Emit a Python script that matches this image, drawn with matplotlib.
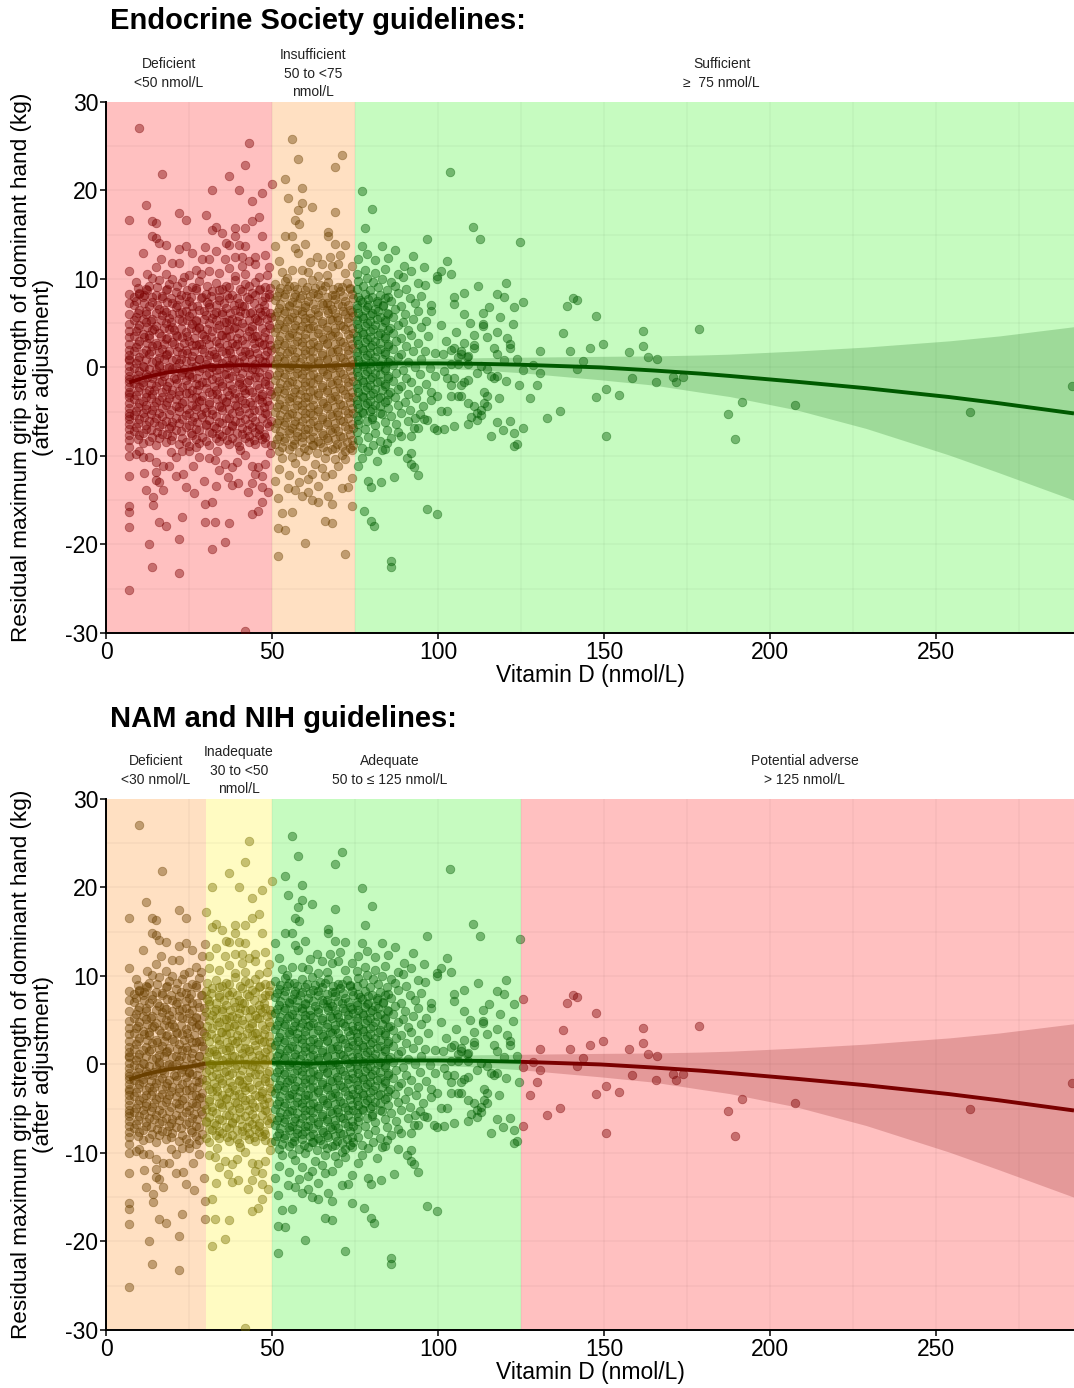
import numpy as np
import matplotlib
matplotlib.use("Agg")
import matplotlib.pyplot as plt

plt.rcParams['font.family'] = ['Liberation Sans', 'DejaVu Sans']
plt.rcParams['axes.unicode_minus'] = False

# ---------------- data ----------------
# vitamin D = 7 nmol/L column
col7_grip = [16.6, 10.9, 8.3, 7.3, 6.0, 4.9, 4.1, 3.4, 2.7, 2.0, 1.4, 0.8, 0.2, -0.4, -1.0,
             -1.6, -2.2, -2.8, -3.4, -4.0, -4.6, -5.2, -5.8, -6.4, -7.0, -7.6, -8.2, -9.0,
             -10.0, -12.3, -15.7, -16.3, -18.0, -25.1, 1.0, -1.3, -3.0, -5.5]

# < 50 nmol/L, outlying points
deficient_outer = [
    (10.0,27.1),(17.0,21.9),(43.0,25.3),(42.0,22.9),(37.0,21.6),(31.9,20.1),(40.0,20.1),(44.0,18.8),(47.0,19.7),(49.9,20.7),
    (12.0,18.4),(22.0,17.5),(24.0,16.6),(30.0,17.2),(14.0,16.5),(15.0,16.3),(14.0,14.8),(15.0,14.6),(16.0,14.1),(18.0,13.8),
    (22.0,13.4),(24.0,13.7),(29.9,13.6),(32.0,15.5),(33.0,15.9),(35.0,15.2),(39.0,15.8),(39.0,14.8),(42.0,15.8),(42.0,13.7),
    (44.0,16.5),(37.0,13.8),(40.0,13.8),(46.0,17.0),(47.0,14.9),(15.0,11.4),(14.0,10.1),(20.0,11.8),(22.0,11.8),(25.0,10.4),
    (29.0,12.3),(31.0,12.3),(33.0,13.2),(35.9,12.2),(38.9,12.5),(40.9,12.5),(44.9,12.5),(47.9,12.7),(44.9,11.7),(18.0,10.6),
    (27.0,11.0),(34.0,10.7),(37.0,11.2),(42.0,10.5),(49.0,11.3),(11.0,12.9),(26.0,12.9),(46.0,10.2),(39.0,10.3),(20.0,10.0),
    (31.0,10.9),(36.0,14.0),(43.0,12.0),(10.0,8.3),(12.5,10.6),(23.5,10.2),(28.5,10.5),(16.5,12.2),(48.5,10.4),(41.0,11.5),
    (9.0,-9.8),(11.0,-10.1),(13.0,-10.1),(15.1,-10.7),(17.1,-11.1),(19.1,-11.1),(21.1,-10.1),(23.0,-9.4),(25.1,-9.4),(27.1,-9.0),
    (28.1,-10.1),(30.9,-10.2),(32.9,-10.5),(34.1,-11.6),(35.9,-10.9),(37.9,-11.3),(39.4,-10.7),(36.9,-12.4),(37.9,-13.3),(39.9,-13.1),
    (42.9,-14.1),(43.9,-13.1),(44.9,-12.0),(46.9,-13.5),(48.9,-14.1),(41.9,-9.9),(43.9,-11.1),(45.9,-11.3),(47.9,-10.9),(15.1,-11.8),
    (16.1,-12.9),(17.1,-13.9),(21.1,-12.3),(23.1,-12.1),(24.1,-13.5),(26.1,-11.1),(12.0,-13.9),(14.1,-14.6),(14.1,-15.5),(15.1,-12.7),
    (13.0,-20.0),(22.0,-19.4),(31.9,-20.5),(35.9,-19.7),(13.9,-22.6),(22.0,-23.2),(16.1,-17.5),(18.1,-17.9),(23.0,-16.9),(29.9,-17.5),
    (32.9,-17.5),(37.0,-17.6),(29.9,-15.4),(31.9,-15.2),(43.9,-16.6),(45.9,-16.2),(46.9,-15.2),(41.9,-29.8),(10.0,-9.5),(19.5,-9.6),
    (33.5,-9.4),(40.5,-9.3),(49.5,-9.7),(29.5,-12.8),(11.5,-11.9),(47.0,-12.3),(26.5,-14.2),(33.0,-13.4),
]

# < 50 nmol/L, dense cloud
deficient_core = [
    (9,9.6),(13,9.2),(16,9.9),(19,9.4),(23,9.7),(26,9.1),(28,9.8),(33,9.5),(36,9.2),(39,9.9),(42,9.4),(45,9.6),(48,9.1),
    (10,8.4),(12,8.9),(15,8.2),(18,8.7),(21,8.5),(24,8.1),(27,8.8),(30,8.3),(32,8.6),(35,8.9),(38,8.2),(41,8.6),(44,8.4),(46,8.8),(49,8.3),
    (9,7.5),(11,7.9),(14,7.4),(17,7.8),(20,7.3),(22,7.7),(25,7.5),(29,7.9),(31,7.2),(34,7.6),(37,7.8),(40,7.3),(43,7.7),(47,7.5),(49,7.9),
    (10,6.5),(13,6.9),(16,6.6),(18,6.3),(21,6.8),(24,6.4),(26,6.9),(28,6.5),(31,6.8),(33,6.3),(36,6.7),(39,6.5),(41,6.9),(44,6.3),(46,6.7),(48,6.4),
    (9,5.7),(12,6.0),(14,5.5),(17,5.9),(19,5.6),(22,6.1),(25,5.8),(27,5.4),(30,5.9),(32,5.6),(35,6.0),(38,5.5),(40,5.8),(42,6.1),(45,5.6),(47,5.9),(49.8,5.7),
    (10,4.8),(12,5.1),(15,4.7),(18,5.0),(20,4.6),(23,5.2),(26,4.9),(28,4.5),(31,5.0),(34,4.8),(36,5.1),(39,4.6),(41,5.0),(44,4.7),(46,5.2),(49,4.8),
    (9,4.1),(11,3.8),(14,4.2),(16,3.9),(19,4.3),(21,3.7),(24,4.0),(27,4.2),(29,3.8),(32,4.1),(35,3.7),(37,4.3),(40,3.9),(43,4.1),(45,3.6),(48,4.0),
    (10,3.0),(13,3.3),(15,2.8),(18,3.2),(20,2.9),(23,3.4),(25,3.0),(28,2.7),(30,3.2),(33,3.0),(36,3.4),(38,2.8),(41,3.1),(44,3.3),(46,2.9),(49,3.2),
    (9,2.3),(12,2.0),(14,2.4),(17,2.1),(19,1.9),(22,2.3),(24,2.0),(27,2.5),(29,2.1),(32,1.8),(34,2.3),(37,2.0),(39,2.4),(42,1.9),(45,2.2),(47,2.5),(49.8,2.0),
    (10,1.2),(13,1.5),(16,1.1),(18,1.4),(21,1.0),(23,1.6),(26,1.3),(28,0.9),(31,1.4),(33,1.2),(36,1.6),(38,1.0),(41,1.3),(43,1.5),(46,1.1),(48,1.4),
    (9,0.5),(11,0.2),(14,0.6),(16,0.3),(19,0.1),(22,0.5),(24,0.7),(27,0.2),(30,0.4),(32,0.0),(35,0.5),(37,0.3),(40,0.6),(42,0.1),(45,0.4),(48,0.6),
    (10,-0.4),(12,-0.7),(15,-0.3),(17,-0.6),(20,-0.2),(23,-0.5),(25,-0.8),(28,-0.4),(31,-0.6),(33,-0.3),(36,-0.7),(39,-0.4),(41,-0.6),(44,-0.2),(46,-0.5),(49,-0.7),
    (9,-1.3),(11,-1.6),(14,-1.2),(17,-1.5),(19,-1.7),(21,-1.3),(24,-1.4),(26,-1.1),(29,-1.6),(32,-1.3),(34,-1.5),(37,-1.2),(40,-1.7),(43,-1.4),(45,-1.1),(48,-1.5),
    (10,-2.2),(13,-2.5),(15,-2.1),(18,-2.4),(20,-2.6),(23,-2.2),(26,-2.5),(28,-2.0),(30,-2.3),(33,-2.6),(35,-2.1),(38,-2.4),(41,-2.2),(43,-2.6),(46,-2.3),(49,-2.0),
    (9,-3.1),(12,-3.4),(14,-3.0),(17,-3.3),(19,-3.5),(22,-3.1),(24,-2.9),(27,-3.4),(29,-3.2),(32,-3.0),(35,-3.5),(37,-3.1),(40,-3.3),(42,-2.9),(45,-3.4),(47,-3.2),(49.8,-3.0),
    (10,-4.0),(12,-4.3),(15,-3.9),(18,-4.2),(21,-4.4),(23,-4.0),(26,-4.3),(28,-3.8),(31,-4.1),(34,-4.4),(36,-3.9),(39,-4.2),(42,-4.0),(44,-4.3),(47,-3.9),(49,-4.2),
    (9,-4.9),(11,-5.2),(14,-4.8),(16,-5.1),(19,-5.3),(22,-4.9),(25,-5.2),(27,-4.7),(30,-5.0),(32,-5.3),(35,-4.8),(38,-5.1),(40,-4.9),(43,-5.2),(46,-4.8),(48,-5.1),
    (10,-5.8),(13,-6.1),(15,-5.7),(18,-6.0),(20,-6.2),(23,-5.8),(26,-6.1),(29,-5.6),(31,-5.9),(34,-6.2),(37,-5.7),(39,-6.0),(42,-5.8),(45,-6.1),(47,-5.7),(49.8,-6.0),
    (9,-6.7),(12,-7.0),(16,-6.6),(19,-6.9),(21,-7.1),(24,-6.7),(27,-7.0),(30,-6.5),(33,-6.8),(36,-7.1),(38,-6.6),(41,-6.9),(44,-6.7),(46,-7.0),(49,-6.6),
    (10,-7.6),(14,-7.9),(17,-7.5),(20,-7.8),(23,-8.0),(26,-7.6),(29,-7.9),(32,-7.4),(35,-7.7),(38,-8.0),(41,-7.5),(43,-7.8),(46,-7.6),(48,-7.9),
    (11,-8.5),(15,-8.8),(18,-8.4),(22,-8.7),(25,-8.9),(28,-8.5),(31,-8.8),(34,-8.3),(37,-8.6),(40,-8.9),(43,-8.4),(45,-8.7),(48,-8.5),(49.8,-8.8),
    (9.5,9.0),(12.5,8.8),(15.5,9.1),(18.5,8.9),(21.5,9.2),(24.5,8.8),(27,9.0),(30.5,9.2),(34,8.8),(37,9.1),(40.5,8.9),(43,9.2),(46.5,8.9),(49.5,9.0),
    (8.5,8.0),(11.5,8.2),(14,7.9),(17,8.1),(19.5,7.8),(22.5,8.2),(25.5,8.0),(28.5,7.8),(31.5,8.1),(34,7.9),(36.5,8.2),(39.5,7.8),(42.5,8.0),(45,8.2),(48,7.9),
    (8.5,7.1),(11.5,7.3),(15.5,7.0),(18.5,7.4),(21.5,7.1),(24,7.2),(27.5,6.9),(30.5,7.4),(33,7.0),(35.5,7.3),(38.5,7.1),(41.5,6.9),(44.5,7.3),(47.5,7.0),
    (9.5,6.2),(12,6.4),(15,6.1),(17.5,6.5),(20,6.0),(23,6.3),(26,6.1),(29.5,6.4),(32.5,6.0),(35,6.3),(37.5,6.2),(40.5,6.4),(43.5,6.1),(46.5,6.3),(49.5,6.2),
    (8.5,5.3),(11,5.5),(13.5,5.2),(16.5,5.4),(19.5,5.1),(22,5.5),(24.5,5.3),(27,5.2),(29.5,5.5),(33,5.3),(35.5,5.1),(37,5.4),(39.5,5.2),(43,5.4),(45.5,5.3),(48.5,5.5),
    (9.5,4.4),(12.5,4.6),(14.5,4.3),(17.5,4.5),(20.5,4.2),(22.5,4.5),(25.5,4.4),(28,4.6),(30.5,4.3),(33.5,4.5),(36,4.2),(38.5,4.4),(41.5,4.6),(44,4.3),(47,4.5),(49.5,4.4),
    (8.5,3.6),(11.5,3.4),(13,3.7),(16.5,3.5),(18.5,3.3),(21.5,3.6),(24.5,3.5),(26.5,3.3),(29.5,3.6),(31.5,3.4),(34.5,3.7),(37.5,3.5),(39.5,3.3),(42.5,3.6),(45.5,3.5),(47.5,3.4),
    (9.5,2.6),(12.5,2.8),(15.5,2.5),(17.5,2.7),(20.5,2.6),(23.5,2.8),(26,2.5),(28.5,2.7),(31,2.6),(34,2.8),(36.5,2.5),(39.5,2.7),(42,2.6),(44.5,2.8),(47.5,2.7),(49.5,2.5),
    (8.5,1.8),(11,1.6),(13.5,1.8),(16,1.7),(18.5,1.5),(21.5,1.8),(24.5,1.6),(26.5,1.9),(29.5,1.7),(32.5,1.5),(35,1.8),(37.5,1.6),(40.5,1.9),(43,1.7),(45.5,1.6),(48.5,1.8),
    (9.5,0.8),(12,1.0),(15,0.7),(17.5,0.9),(20,0.8),(22.5,1.0),(25.5,0.7),(28,0.9),(30.5,0.8),(33.5,0.9),(36,0.7),(38.5,1.0),(41.5,0.8),(44,0.9),(47,0.7),(49.5,0.9),
    (8.5,-0.1),(11.5,0.1),(13,-0.2),(16,0.0),(18.5,-0.1),(21,0.1),(23.5,-0.2),(26,0.0),(29,-0.1),(31.5,0.1),(34,-0.2),(36.5,0.0),(39.5,-0.1),(42.5,0.1),(45,-0.2),(47.5,0.0),
    (9.5,-0.9),(12.5,-1.1),(14.5,-0.8),(17.5,-1.0),(20.5,-1.2),(22.5,-0.9),(25,-1.0),(27.5,-1.2),(30,-0.9),(33,-1.1),(35.5,-0.8),(38,-1.0),(40.5,-1.2),(43.5,-0.9),(46,-1.1),(48.5,-1.0),
    (8.5,-1.8),(11,-2.0),(13.5,-1.9),(16,-1.7),(18.5,-2.1),(21.5,-1.8),(24.5,-2.0),(27,-1.9),(30,-1.7),(32.5,-2.1),(35,-1.8),(37.5,-2.0),(40,-1.9),(42.5,-1.7),(45.5,-2.0),(48,-1.9),
    (9.5,-2.7),(12,-2.9),(14.5,-2.6),(17,-2.8),(19.5,-3.0),(22,-2.7),(25,-2.9),(27.5,-2.6),(31,-2.8),(33.5,-3.0),(36.5,-2.7),(39,-2.9),(41.5,-2.6),(44,-2.8),(47,-3.0),(49.5,-2.7),
    (8.5,-3.6),(11,-3.8),(13.5,-3.5),(16,-3.7),(18.5,-3.9),(21,-3.6),(23.5,-3.8),(26,-3.5),(28.5,-3.7),(31,-3.9),(33.5,-3.6),(36,-3.8),(38.5,-3.5),(41,-3.7),(43.5,-3.9),(46,-3.6),(48.5,-3.8),
    (9.5,-4.5),(12,-4.7),(14.5,-4.4),(17,-4.6),(19.5,-4.8),(22,-4.5),(24.5,-4.7),(27,-4.4),(29.5,-4.6),(32,-4.8),(34.5,-4.5),(37,-4.7),(39.5,-4.4),(42,-4.6),(44.5,-4.8),(47.5,-4.5),
    (8.5,-5.4),(11.5,-5.6),(13.5,-5.3),(17,-5.5),(21,-5.7),(24,-5.4),(26.5,-5.6),(28.5,-5.3),(33,-5.5),(36,-5.7),(40.5,-5.4),(44,-5.6),(48.5,-5.3),
    (9.5,-6.3),(12,-6.5),(14.5,-6.2),(17,-6.4),(19.5,-6.6),(22,-6.3),(25,-6.5),(27.5,-6.2),(30,-6.4),(32.5,-6.6),(35,-6.3),(38,-6.5),(40.5,-6.2),(43,-6.4),(46,-6.6),(48.5,-6.3),
    (8.5,-7.2),(11,-7.4),(13.5,-7.1),(15.5,-7.3),(18.5,-7.5),(22.5,-7.2),(25.5,-7.4),(28,-7.1),(31,-7.3),(34,-7.5),(37,-7.2),(39.5,-7.4),(42.5,-7.1),(45,-7.3),(47.5,-7.5),
    (9.5,-8.1),(13,-8.3),(16,-8.0),(19.5,-8.2),(24,-8.4),(27,-8.1),(30,-8.3),(33,-8.0),(36.5,-8.2),(39.5,-8.4),(42,-8.0),(44.5,-8.2),(47,-8.1),
]

# 50 to 75 nmol/L
insufficient_pts = [
    (55.9,25.8),(57.9,23.6),(71.0,24.0),(69.0,22.6),(53.9,21.3),(58.9,20.3),(54.9,19.1),(58.9,18.6),(57.9,17.8),(62.0,18.1),
    (69.0,17.6),(51.0,13.7),(54.0,14.9),(56.0,14.9),(57.0,16.6),(58.0,16.2),(67.0,15.3),(67.0,14.9),(69.0,13.9),(72.0,13.8),
    (60.0,13.9),(52.9,10.8),(55.9,11.0),(58.9,11.0),(60.9,10.8),(65.0,11.7),(68.0,11.5),(70.0,11.7),(72.0,10.7),(63.5,12.5),
    (67.5,12.5),(70.5,12.7),(57.9,12.9),(56.9,13.5),(52.0,12.0),(61.5,11.9),(64.0,10.3),(74.0,11.5),(54.5,10.1),(66.5,10.4),
    (51.9,-18.2),(53.9,-18.4),(52.9,-16.5),(55.9,-16.3),(51.9,-21.3),(59.9,-19.8),(72.0,-21.1),(66.0,-17.3),(68.0,-17.6),(51.9,-14.7),
    (54.9,-13.6),(58.9,-14.5),(60.9,-14.1),(62.0,-15.0),(64.0,-15.2),(67.0,-14.5),(68.0,-15.4),(71.0,-13.6),(74.0,-15.7),(66.0,-12.3),
    (52.0,-11.5),(55.0,-12.2),(57.0,-10.8),(59.0,-11.6),(61.0,-12.6),(63.0,-10.9),(65.0,-11.4),(68.0,-12.0),(70.0,-11.1),(72.0,-10.4),
    (74.0,-12.5),(53.0,-10.2),(58.0,-12.9),(62.0,-12.0),(69.0,-10.3),(73.0,-13.5),(60.0,-10.0),(64.0,-13.4),(56.0,-10.1),(71.0,-9.9),
    (51.0,-12.8),(66.0,-10.2),(57.0,-13.9),
    (51,9.4),(54,9.8),(56.5,9.2),(59,9.6),(62,9.9),(64.5,9.3),(67,9.7),(70,9.1),(72.5,9.5),
    (52,8.5),(54.5,8.9),(57,8.3),(60,8.7),(62.5,8.4),(65,8.8),(68,8.2),(70.5,8.6),(73.5,8.9),
    (51,7.6),(53.5,7.9),(56,7.4),(58.5,7.8),(61,7.5),(64,7.9),(66.5,7.3),(69,7.7),(72,7.5),(74.5,7.8),
    (52,6.7),(55,6.9),(57.5,6.5),(60,6.8),(63,6.6),(65.5,7.0),(68,6.6),(71,6.9),(73.5,6.5),
    (51,5.8),(53.5,6.1),(56,5.7),(59,6.0),(61.5,5.6),(64,5.9),(67,6.2),(69.5,5.7),(72,6.0),(74.5,5.8),
    (52,4.9),(54.5,5.2),(57,4.8),(60,5.1),(62.5,4.7),(65,5.0),(68,5.3),(70.5,4.8),(73,5.1),
    (51,4.0),(53.5,4.3),(56,3.9),(58.5,4.2),(61,4.4),(64,3.9),(66.5,4.2),(69,4.0),(72,4.3),(74.5,3.9),
    (52,3.1),(55,3.4),(57.5,3.0),(60,3.3),(62.5,2.9),(65.5,3.2),(68,3.5),(70.5,3.0),(73.5,3.3),
    (51,2.2),(53.5,2.5),(56,2.1),(59,2.4),(61.5,2.0),(64,2.3),(66.5,2.6),(69.5,2.1),(72,2.4),(74.5,2.2),
    (52,1.3),(54.5,1.6),(57,1.2),(60,1.5),(62.5,1.1),(65,1.4),(68,1.7),(70.5,1.2),(73,1.5),
    (51,0.4),(53.5,0.7),(56,0.3),(58.5,0.6),(61,0.2),(64,0.5),(66.5,0.8),(69,0.3),(72,0.6),(74.5,0.4),
    (52,-0.5),(55,-0.2),(57.5,-0.6),(60,-0.3),(62.5,-0.7),(65.5,-0.4),(68,-0.1),(70.5,-0.5),(73.5,-0.3),
    (51,-1.4),(53.5,-1.1),(56,-1.5),(59,-1.2),(61.5,-1.6),(64,-1.3),(66.5,-1.0),(69.5,-1.4),(72,-1.2),(74.5,-1.5),
    (52,-2.3),(54.5,-2.0),(57,-2.4),(60,-2.1),(62.5,-2.5),(65,-2.2),(68,-1.9),(70.5,-2.3),(73,-2.1),
    (51,-3.2),(53.5,-2.9),(56,-3.3),(58.5,-3.0),(61,-3.4),(64,-3.1),(66.5,-2.8),(69,-3.2),(72,-3.0),(74.5,-3.3),
    (52,-4.1),(55,-3.8),(57.5,-4.2),(60,-3.9),(62.5,-4.3),(65.5,-4.0),(68,-3.7),(70.5,-4.1),(73.5,-3.9),
    (51,-5.0),(53.5,-4.7),(56,-5.1),(59,-4.8),(61.5,-5.2),(64,-4.9),(66.5,-4.6),(69.5,-5.0),(72,-4.8),(74.5,-5.1),
    (52,-5.9),(54.5,-5.6),(57,-6.0),(60,-5.7),(62.5,-6.1),(65,-5.8),(68,-5.5),(70.5,-5.9),(73,-5.7),
    (51,-6.8),(53.5,-6.5),(56,-6.9),(58.5,-6.6),(61,-7.0),(64,-6.7),(66.5,-6.4),(69,-6.8),(72,-6.6),(74.5,-6.9),
    (52,-7.7),(55,-7.4),(57.5,-7.8),(60,-7.5),(62.5,-7.9),(65.5,-7.6),(68,-7.3),(70.5,-7.7),(73.5,-7.5),
    (51,-8.6),(53.5,-8.3),(56.5,-8.7),(59,-8.4),(62,-8.8),(64.5,-8.5),(67,-8.2),(69.5,-8.6),(72.5,-8.4),(74.5,-8.8),
    (52,-9.5),(55,-9.2),(58,-9.6),(61,-9.3),(63.5,-9.7),(66.5,-9.4),(69,-9.1),(72,-9.5),(74,-9.3),
    (52.5,9.0),(55,9.2),(57.5,8.9),(60.5,9.1),(63,9.0),(66,9.2),(68.5,8.9),(71,9.1),(73.5,9.0),
    (51.5,8.1),(54,8.3),(56.5,8.0),(59,8.2),(61.5,8.1),(64,8.3),(66.5,8.0),(69,8.2),(71.5,8.1),(74,8.3),
    (52.5,7.2),(55,7.1),(57.5,7.3),(60,7.0),(62.5,7.2),(65,7.3),(67.5,7.0),(70,7.2),(73,7.1),
    (51.5,6.3),(54,6.4),(56.5,6.2),(59,6.4),(61.5,6.1),(64,6.3),(66.5,6.5),(69,6.2),(71.5,6.4),(74,6.3),
    (52.5,5.4),(55,5.5),(57.5,5.3),(60,5.6),(62.5,5.4),(65,5.2),(67.5,5.5),(70,5.4),(73,5.6),
    (51.5,4.5),(54,4.6),(56.5,4.4),(59,4.7),(61.5,4.5),(64,4.3),(66.5,4.6),(69,4.5),(71.5,4.7),(74,4.4),
    (52.5,3.6),(55,3.7),(57.5,3.5),(60,3.8),(62.5,3.6),(65,3.4),(67.5,3.7),(70,3.6),(73,3.8),
    (51.5,2.7),(54,2.8),(56.5,2.6),(59,2.9),(61.5,2.7),(64,2.5),(66.5,2.8),(69,2.7),(71.5,2.9),(74,2.6),
    (52.5,1.8),(55,1.9),(57.5,1.7),(60,2.0),(62.5,1.8),(65,1.6),(67.5,1.9),(70,1.8),(73,2.0),
    (51.5,0.9),(54,1.0),(56.5,0.8),(59,1.1),(61.5,0.9),(64,0.7),(66.5,1.0),(69,0.9),(71.5,1.1),(74,0.8),
    (52.5,0.0),(55,0.1),(57.5,-0.1),(60,0.2),(62.5,0.0),(65,-0.2),(67.5,0.1),(70,0.0),(73,0.2),
    (51.5,-0.9),(54,-0.8),(56.5,-1.0),(59,-0.7),(61.5,-0.9),(64,-1.1),(66.5,-0.8),(69,-0.9),(71.5,-0.7),(74,-1.0),
    (52.5,-1.8),(55,-1.7),(57.5,-1.9),(60,-1.6),(62.5,-1.8),(65,-2.0),(67.5,-1.7),(70,-1.8),(73,-1.6),
    (51.5,-2.7),(54,-2.6),(56.5,-2.8),(59,-2.5),(61.5,-2.7),(64,-2.9),(66.5,-2.6),(69,-2.7),(71.5,-2.5),(74,-2.8),
    (52.5,-3.6),(55,-3.5),(57.5,-3.7),(60,-3.4),(62.5,-3.6),(65,-3.8),(67.5,-3.5),(70,-3.6),(73,-3.4),
    (51.5,-4.5),(54,-4.4),(56.5,-4.6),(59,-4.3),(61.5,-4.5),(64,-4.7),(66.5,-4.4),(69,-4.5),(71.5,-4.3),(74,-4.6),
    (52.5,-5.4),(55,-5.3),(57.5,-5.5),(60,-5.2),(62.5,-5.4),(65,-5.6),(67.5,-5.3),(70,-5.4),(73,-5.2),
    (51.5,-6.3),(54,-6.2),(56.5,-6.4),(59,-6.1),(61.5,-6.3),(64,-6.5),(66.5,-6.2),(69,-6.3),(71.5,-6.1),(74,-6.4),
    (52.5,-7.2),(55,-7.1),(57.5,-7.3),(60,-7.0),(62.5,-7.2),(65,-7.4),(67.5,-7.1),(70,-7.2),(73,-7.0),
    (51.5,-8.1),(54,-8.0),(56.5,-8.2),(59,-7.9),(61.5,-8.1),(64,-8.3),(66.5,-8.0),(69,-8.1),(71.5,-7.9),(74,-8.2),
    (53,-9.0),(56,-8.9),(59.5,-9.1),(62.5,-8.8),(65.5,-9.0),(68,-9.2),(71,-8.9),(73.5,-9.1),
]

# 75 to 100 nmol/L
sufficient_near = [
    (77.0,19.9),(80.0,17.9),(78.0,15.7),(77.0,13.7),(83.0,13.7),(87.0,13.3),(89.8,11.5),(96.8,14.5),(95.7,11.3),(76.0,12.3),
    (78.5,12.8),(81.0,12.1),(85.0,12.4),(92.5,12.6),(97.8,6.4),
    (77.8,-16.2),(79.8,-17.3),(80.8,-17.9),(78.8,-12.8),(79.8,-13.5),(82.8,-13.0),(86.7,-12.4),(85.8,-21.9),(85.8,-22.6),(76.0,-11.1),
    (79.0,-9.4),(83.0,-9.3),(93.9,-12.2),(92.9,-11.3),(91.8,-9.7),(90.8,-10.2),(91.8,-10.9),(84.7,-8.5),(88.8,-7.8),(91.8,-7.8),
    (92.8,-6.8),(93.9,-6.8),(96.8,-5.9),(98.8,-6.8),(99.8,-7.1),(94.7,-5.3),(95.8,-5.8),(97.8,-2.8),(96.8,-16.0),(99.8,-16.6),
    (77.0,-10.2),(81.5,-10.6),(88.0,-9.5),
    (75.5,10.6),(78,11.0),(81,10.7),(84,11.1),(88,10.5),(92,10.9),
    (76,9.8),(78.5,10.1),(80.5,9.6),(83,10.0),(86,9.7),(89.5,10.2),(94,9.5),
    (75.5,8.9),(77.5,9.2),(79.5,8.8),(82,9.1),(84.5,8.7),(87,9.2),(90.5,8.9),(96,9.3),
    (76,8.0),(78,8.3),(80,7.9),(82.5,8.2),(85,8.0),(88,8.4),(91.5,7.8),(95,8.1),
    (75.5,7.1),(77,7.4),(79,7.0),(81.5,7.3),(83.5,7.1),(86,7.5),(89,6.9),(93,7.3),(98,7.0),
    (76,6.2),(78,6.5),(80,6.1),(82,6.4),(84.5,6.2),(87,6.6),(90,6.0),(94,6.4),
    (75.5,5.3),(77.5,5.6),(79.5,5.2),(81.5,5.5),(84,5.3),(86.5,5.7),(89.5,5.1),(92.5,5.5),(96.5,5.2),
    (76,4.4),(78,4.7),(80.5,4.3),(83,4.6),(85.5,4.4),(88,4.8),(91,4.2),(95,4.6),
    (75.5,3.5),(77.5,3.8),(79.5,3.4),(82,3.7),(84,3.5),(86.5,3.9),(89,3.3),(92,3.7),(97,3.6),
    (76,2.6),(78,2.9),(80,2.5),(82.5,2.8),(85,2.6),(87.5,3.0),(90.5,2.4),(94,2.8),
    (75.5,1.7),(77.5,2.0),(79.5,1.6),(81.5,1.9),(84,1.7),(86.5,2.1),(89,1.5),(92.5,1.9),(96,1.8),(99,1.6),
    (76,0.8),(78,1.1),(80.5,0.7),(83,1.0),(85.5,0.8),(88,1.2),(91,0.6),(95,1.0),
    (75.5,-0.1),(77.5,0.2),(79.5,-0.2),(82,0.1),(84,-0.1),(86.5,0.3),(89.5,-0.3),(93,0.1),(97.5,-0.1),
    (76,-1.0),(78,-0.7),(80,-1.1),(82.5,-0.8),(85,-1.0),(87.5,-0.6),(90.5,-1.2),(94.5,-0.8),(99,-1.0),
    (75.5,-1.9),(77.5,-1.6),(79.5,-2.0),(81.5,-1.7),(84,-1.9),(86.5,-1.5),(89,-2.1),(92,-1.7),(96.5,-1.9),
    (76,-2.8),(78,-2.5),(80.5,-2.9),(83,-2.6),(85.5,-2.8),(88,-2.4),(91,-3.0),(94,-2.6),
    (75.5,-3.7),(77.5,-3.4),(79.5,-3.8),(82,-3.5),(84.5,-3.7),(87,-3.3),(90,-3.9),(93.5,-3.5),(98,-3.7),
    (76,-4.6),(78,-4.3),(80,-4.7),(82.5,-4.4),(85,-4.6),(88,-4.2),(91.5,-4.8),(95.5,-4.4),
    (75.5,-5.5),(77.5,-5.2),(80,-5.6),(83,-5.3),(86,-5.5),(89,-5.1),(93,-5.7),
    (76,-6.4),(78.5,-6.1),(81,-6.5),(84,-6.2),(87.5,-6.4),(91,-6.0),
    (75.5,-7.3),(78,-7.0),(81,-7.4),(84.5,-7.1),(88,-7.3),
    (76,-8.2),(79,-7.9),(82.5,-8.3),(86,-8.0),
    (77,-9.1),(80.5,-8.8),(84,-9.2),
    (76.5,7.6),(79,7.7),(81.5,7.5),(84,7.8),(75.5,6.7),(78.5,6.8),(81,6.6),(83.5,6.9),(77,5.8),(79.5,5.9),
    (82.5,5.7),(85,6.0),(75.5,4.9),(78.5,5.0),(81,4.8),(84,5.1),(77,4.0),(79.5,4.1),(82.5,3.9),(85,4.2),
    (75.5,3.1),(78.5,3.2),(81,3.0),(84,3.3),(77,2.2),(79.5,2.3),(82.5,2.1),(85,2.4),(75.5,1.3),(78.5,1.4),
    (81,1.2),(84,1.5),(77,0.4),(79.5,0.5),(82.5,0.3),(85,0.6),(75.5,-0.5),(78.5,-0.4),(81,-0.6),(84,-0.3),
    (77,-1.4),(79.5,-1.3),(82.5,-1.5),(85,-1.2),(75.5,-2.3),(78.5,-2.2),(81,-2.4),(84,-2.1),(77,-3.2),(79.5,-3.1),
    (82.5,-3.3),(85,-3.0),(75.5,-4.1),(78.5,-4.0),(81,-4.2),(84,-3.9),(77,-5.0),(79.5,-4.9),(82.5,-5.1),(76,-5.9),(80,-5.8),
]

# 100 nmol/L and above
sufficient_far = [
    (103.7,22.1),(110.7,15.9),(112.7,14.5),(124.7,14.2),(102.8,12.0),(100.8,10.9),(99.8,10.3),(99.8,10.0),(104.8,8.0),(107.8,8.4),
    (104.8,7.2),(117.7,8.3),(119.8,8.0),(122.8,6.8),(125.7,7.4),(107.8,6.0),(113.7,6.1),(113.7,4.9),(113.7,4.7),(118.7,5.7),
    (122.7,4.9),(117.7,4.0),(114.8,3.4),(110.8,3.7),(110.8,2.2),(107.7,2.8),(108.7,1.2),(120.7,3.3),(121.7,2.6),(121.7,2.2),
    (117.7,1.5),(100.8,4.8),(125.7,-0.3),(128.7,0.3),(129.7,-2.0),(117.7,-6.2),(119.7,-7.1),(121.8,-6.1),(122.8,-7.4),(122.8,-8.9),
    (123.7,-8.7),(125.7,-6.9),(111.7,-5.9),(104.8,-6.6),(101.8,-7.0),(102.8,-4.9),(100.8,-4.9),(99.8,-3.2),
    (103.9,2.0),(104.9,2.2),(106.9,1.9),(105.9,1.2),(106.9,1.5),(108.9,1.3),(110.9,2.5),(103.9,0.4),(105.9,0.4),(108.9,0.4),
    (101.8,-0.4),(102.8,-1.2),(103.9,-2.0),(104.9,-1.2),(106.9,-2.0),(107.9,-1.6),(108.9,-1.4),(105.9,-3.2),(103.9,-3.2),(106.9,-3.2),
    (108.9,-4.0),(110.9,-4.4),(112.9,-4.8),(113.9,-4.0),(114.9,-4.4),(111.9,-5.2),(112.9,-5.4),(109.9,-5.6),(108.9,-6.4),(113.9,-2.8),
    (114.9,-3.2),(117.9,-1.0),(116.9,-1.2),(115.9,-1.0),(114.9,-0.2),(112.9,0.2),(111.9,-0.6),(116.9,2.2),(119.9,0.8),(123.8,1.0),
    (127.7,-3.5),(101.5,1.5),(102.5,3.0),(105.5,4.0),(109.5,5.0),(115.5,6.8),(120.5,9.5),(112.0,9.2),(104.0,10.5),(116.0,-7.8),
    (118.5,-3.5),(124.5,-2.0),(120.5,-1.5),
    (130.7,1.8),(130.7,-0.6),(132.7,-5.7),(136.7,-4.9),(137.7,3.9),(138.8,6.9),(139.7,1.8),(140.8,7.8),(141.8,7.6),(141.8,-0.2),
    (143.8,0.7),(145.7,2.2),(147.7,5.8),(147.7,-3.3),(149.7,2.6),(150.7,-2.4),(150.7,-7.8),(154.5,-3.1),(157.6,1.7),(158.6,-1.2),
    (161.7,4.1),(161.7,2.4),(163.3,1.2),(165.9,1.0),(165.7,-1.7),(170.7,-1.1),(171.7,-1.7),(173.7,-1.1),(178.7,4.3),(187.5,-5.3),
    (191.6,-3.9),(189.6,-8.1),(207.5,-4.3),(260.3,-5.0),(291.0,-2.1),
]

# smoothed fit and its confidence band
fit_x = [7, 12, 18, 25, 30, 40, 50, 62, 75, 88, 100, 113, 125, 149, 165, 179, 188, 208, 229, 254, 269, 291.6]
fit_y = [-1.7, -1.1, -0.6, -0.25, 0.1, 0.25, 0.2, 0.1, 0.3, 0.45, 0.45, 0.4, 0.3, 0.0, -0.35, -0.7, -0.97, -1.62, -2.35, -3.35, -4.05, -5.2]
fit_lo = [-2.5, -1.7, -1.1, -0.7, -0.3, -0.15, -0.2, -0.3, -0.1, 0.0, -0.1, -0.3, -0.6, -1.4, -2.0, -2.8, -3.3, -4.8, -6.9, -9.9, -11.9, -15.0]
fit_hi = [-0.9, -0.5, -0.1, 0.2, 0.5, 0.65, 0.6, 0.5, 0.7, 0.9, 1.0, 1.1, 1.15, 1.25, 1.3, 1.4, 1.5, 1.85, 2.3, 3.0, 3.55, 4.6]

# guideline cut points and labels
es_edges = [0, 50, 75, 300]
es_labels = ["Deficient\n<50 nmol/L", "Insufficient\n50 to <75\nnmol/L", "Sufficient\n\u2265  75 nmol/L"]
es_label_x = [19, 62.5, 185.5]
nam_edges = [0, 30, 50, 125, 300]
nam_labels = ["Deficient\n<30 nmol/L", "Inadequate\n30 to <50\nnmol/L", "Adequate\n50 to \u2264 125 nmol/L",
              "Potential adverse\n> 125 nmol/L"]
nam_label_x = [15, 40, 85.5, 210.5]

# ---------------- assemble ----------------
pts = [(7.0, g) for g in col7_grip] + deficient_outer + deficient_core + insufficient_pts + sufficient_near + sufficient_far
pts = np.array(pts)
vitd, grip = pts[:, 0], pts[:, 1]
fit_x, fit_y = np.array(fit_x), np.array(fit_y)
fit_lo, fit_hi = np.array(fit_lo), np.array(fit_hi)

BG_RED, BG_ORANGE, BG_GREEN, BG_YELLOW = '#FFC0C0', '#FFE0C2', '#C6FBC0', '#FFFBC2'
C_RED, C_BROWN, C_GREEN, C_OLIVE = '#7A0000', '#6A4000', '#005A00', '#787000'

XMAX = 291.6


def draw_panel(ax, edges, bgs, cols, labels, label_x):
    for i in range(len(edges) - 1):
        lo, hi = edges[i], edges[i + 1]
        ax.axvspan(lo, hi, color=bgs[i], lw=0, zorder=0)
        m = (vitd >= lo) & (vitd < hi)
        ax.scatter(vitd[m], grip[m], s=38, color=cols[i], alpha=0.42, lw=0.6, edgecolors=cols[i], zorder=3)
        fm = (fit_x >= lo) & (fit_x <= hi)
        ax.fill_between(fit_x[fm], fit_lo[fm], fit_hi[fm], color=cols[i], alpha=0.2, lw=0, zorder=4)
        ax.plot(fit_x[fm], fit_y[fm], color=cols[i], lw=2.8, zorder=5, solid_capstyle='butt')
        ax.text(label_x[i], 33.2, labels[i], ha='center', va='center', fontsize=10,
                linespacing=1.4, color='#222222', clip_on=False)

    # faint grid
    for gx in range(25, 300, 25):
        ax.axvline(gx, color='black', alpha=0.03, lw=1.2, zorder=1)
    for gy in range(-25, 30, 5):
        ax.axhline(gy, color='black', alpha=0.03, lw=1.2, zorder=1)

    ax.set_xlim(0, XMAX)
    ax.set_ylim(-30, 30)
    ax.set_xticks([0, 50, 100, 150, 200, 250])
    ax.set_yticks([-30, -20, -10, 0, 10, 20, 30])
    ax.tick_params(direction='out', length=4, width=1.1, labelsize=16.5, pad=1.5)
    for s in ['top', 'right']:
        ax.spines[s].set_visible(False)
    for s in ['left', 'bottom']:
        ax.spines[s].set_linewidth(1.4)
    ax.set_xlabel('Vitamin D (nmol/L)', fontsize=16.5, labelpad=0)


fig = plt.figure(figsize=(10.74, 13.88), dpi=100)
ax1 = fig.add_axes([0.0987, 0.5440, 0.9013, 0.3826])
ax2 = fig.add_axes([0.0987, 0.0418, 0.9013, 0.3826])

draw_panel(ax1, es_edges, [BG_RED, BG_ORANGE, BG_GREEN], [C_RED, C_BROWN, C_GREEN], es_labels, es_label_x)
draw_panel(ax2, nam_edges, [BG_ORANGE, BG_YELLOW, BG_GREEN, BG_RED], [C_BROWN, C_OLIVE, C_GREEN, C_RED],
           nam_labels, nam_label_x)

ylab = 'Residual maximum grip strength of dominant hand (kg)\n(after adjustment)'
fig.text(0.0303, 0.5440 + 0.3826 / 2, ylab, rotation=90, ha='center', va='center', fontsize=16.2, linespacing=1.1)
fig.text(0.0303, 0.0418 + 0.3826 / 2, ylab, rotation=90, ha='center', va='center', fontsize=16.2, linespacing=1.1)

fig.text(110 / 1074, 1 - 21 / 1388, 'Endocrine Society guidelines:', fontsize=21, fontweight='bold',
         ha='left', va='center')
fig.text(110 / 1074, 1 - 719 / 1388, 'NAM and NIH guidelines:', fontsize=21, fontweight='bold',
         ha='left', va='center')

fig.savefig('out.png', dpi=100)
